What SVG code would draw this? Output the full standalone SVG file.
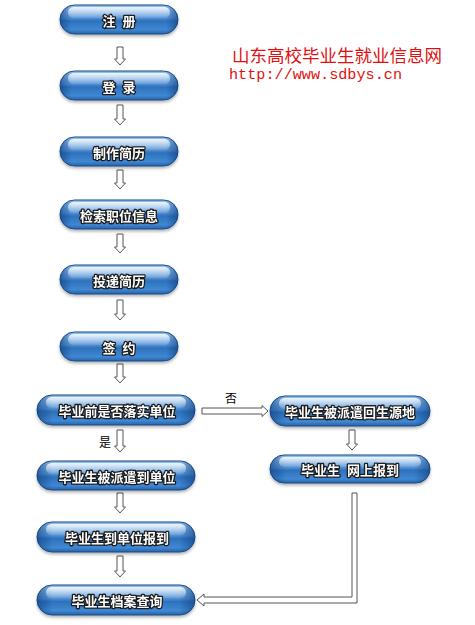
<svg xmlns="http://www.w3.org/2000/svg" width="475" height="625" viewBox="0 0 475 625">
<style>
.btn{fill:url(#gBody);stroke:#1a4c88;stroke-width:1}
.ends{fill:url(#gEnds)}
.hl{fill:url(#gHi)}
.lbl{font-family:"Noto Sans CJK SC","Noto Sans",sans-serif;font-size:13px;font-weight:bold;fill:#fff;stroke:#1a1a1a;stroke-width:2.6px;paint-order:stroke;stroke-linejoin:round;text-anchor:middle;dominant-baseline:central;word-spacing:4px}
.arr{fill:#fff;stroke:#555;stroke-width:1}
.note{font-family:"Noto Sans CJK SC","Noto Sans",sans-serif;font-size:12px;fill:#000;text-anchor:middle}
</style>
<defs>
<linearGradient id="gBody" x1="0" y1="0" x2="0" y2="1">
<stop offset="0" stop-color="#95c2ee"/>
<stop offset="0.45" stop-color="#4f8fd4"/>
<stop offset="0.55" stop-color="#2f71bb"/>
<stop offset="0.85" stop-color="#3f88d4"/>
<stop offset="1" stop-color="#2a63a6"/>
</linearGradient>
<linearGradient id="gEnds" x1="0" y1="0" x2="1" y2="0">
<stop offset="0" stop-color="#0c3a78" stop-opacity="0.55"/>
<stop offset="0.1" stop-color="#0c3a78" stop-opacity="0"/>
<stop offset="0.9" stop-color="#0c3a78" stop-opacity="0"/>
<stop offset="1" stop-color="#0c3a78" stop-opacity="0.55"/>
</linearGradient>
<linearGradient id="gHi" x1="0" y1="0" x2="0" y2="1">
<stop offset="0" stop-color="#fff" stop-opacity="0.85"/>
<stop offset="1" stop-color="#fff" stop-opacity="0.1"/>
</linearGradient>
<filter id="sh" x="-10%" y="-20%" width="120%" height="160%">
<feDropShadow dx="0" dy="2" stdDeviation="1.5" flood-color="#000" flood-opacity="0.3"/>
</filter>
</defs>
<rect width="475" height="625" fill="#fff"/>

<g id="title">
<text x="232" y="62" font-family="'Noto Sans CJK SC',sans-serif" font-size="17.5" fill="#e01010" textLength="210" lengthAdjust="spacingAndGlyphs">山东高校毕业生就业信息网</text>
<text x="229" y="79" font-family="'Liberation Mono',monospace" font-size="15" fill="#e01010" textLength="173" lengthAdjust="spacingAndGlyphs">http://www.sdbys.cn</text>
</g>

<g id="connectors">
<path class="arr" d="M117 47H123V59H125.5L120 65L114.5 59H117Z"/>
<path class="arr" d="M117 105H123V119H125.5L120 125L114.5 119H117Z"/>
<path class="arr" d="M117 170H123V183H125.5L120 189L114.5 183H117Z"/>
<path class="arr" d="M117 234H123V247H125.5L120 253L114.5 247H117Z"/>
<path class="arr" d="M117 300H123V314H125.5L120 320L114.5 314H117Z"/>
<path class="arr" d="M117 364H123V377H125.5L120 383L114.5 377H117Z"/>
<path class="arr" d="M117 430H123V446H125.5L120 452L114.5 446H117Z"/>
<path class="arr" d="M117 493H123V507H125.5L120 513L114.5 507H117Z"/>
<path class="arr" d="M117 556H123V571H125.5L120 577L114.5 571H117Z"/>
<path class="arr" d="M349 430H355V444H357.5L352 450L346.5 444H349Z"/>
<path class="arr" d="M202 408H262V405.5L268 411L262 416.5V414H202Z"/>
<path class="arr" d="M352 493H357V603H204V606L197 600L204 594V597H352Z"/>
<text class="note" x="231" y="403">否</text>
<text class="note" x="105" y="447">是</text>
</g>

<g id="n1" filter="url(#sh)"><rect class="btn" x="60" y="5" width="118" height="29" rx="14.5"/><rect class="ends" x="60" y="5" width="118" height="29" rx="14.5"/><rect class="hl" x="68" y="7" width="102" height="11" rx="5.5"/><text class="lbl" x="119" y="20">注 册</text></g>
<g id="n2" filter="url(#sh)"><rect class="btn" x="60" y="71" width="118" height="29" rx="14.5"/><rect class="ends" x="60" y="71" width="118" height="29" rx="14.5"/><rect class="hl" x="68" y="73" width="102" height="11" rx="5.5"/><text class="lbl" x="119" y="86">登 录</text></g>
<g id="n3" filter="url(#sh)"><rect class="btn" x="60" y="137" width="118" height="29" rx="14.5"/><rect class="ends" x="60" y="137" width="118" height="29" rx="14.5"/><rect class="hl" x="68" y="139" width="102" height="11" rx="5.5"/><text class="lbl" x="119" y="152">制作简历</text></g>
<g id="n4" filter="url(#sh)"><rect class="btn" x="60" y="200" width="118" height="29" rx="14.5"/><rect class="ends" x="60" y="200" width="118" height="29" rx="14.5"/><rect class="hl" x="68" y="202" width="102" height="11" rx="5.5"/><text class="lbl" x="119" y="215">检索职位信息</text></g>
<g id="n5" filter="url(#sh)"><rect class="btn" x="60" y="265" width="118" height="29" rx="14.5"/><rect class="ends" x="60" y="265" width="118" height="29" rx="14.5"/><rect class="hl" x="68" y="267" width="102" height="11" rx="5.5"/><text class="lbl" x="119" y="280">投递简历</text></g>
<g id="n6" filter="url(#sh)"><rect class="btn" x="60" y="332" width="118" height="29" rx="14.5"/><rect class="ends" x="60" y="332" width="118" height="29" rx="14.5"/><rect class="hl" x="68" y="334" width="102" height="11" rx="5.5"/><text class="lbl" x="119" y="347">签 约</text></g>
<g id="n7" filter="url(#sh)"><rect class="btn" x="37" y="395" width="158" height="30" rx="15"/><rect class="ends" x="37" y="395" width="158" height="30" rx="15"/><rect class="hl" x="46" y="397" width="140" height="11" rx="5.5"/><text class="lbl" x="117" y="410">毕业前是否落实单位</text></g>
<g id="n8" filter="url(#sh)"><rect class="btn" x="37" y="461" width="158" height="29" rx="14.5"/><rect class="ends" x="37" y="461" width="158" height="29" rx="14.5"/><rect class="hl" x="46" y="463" width="140" height="11" rx="5.5"/><text class="lbl" x="117" y="476">毕业生被派遣到单位</text></g>
<g id="n9" filter="url(#sh)"><rect class="btn" x="37" y="522" width="158" height="30" rx="15"/><rect class="ends" x="37" y="522" width="158" height="30" rx="15"/><rect class="hl" x="46" y="524" width="140" height="11" rx="5.5"/><text class="lbl" x="117" y="537">毕业生到单位报到</text></g>
<g id="n10" filter="url(#sh)"><rect class="btn" x="37" y="585" width="158" height="30" rx="15"/><rect class="ends" x="37" y="585" width="158" height="30" rx="15"/><rect class="hl" x="46" y="587" width="140" height="11" rx="5.5"/><text class="lbl" x="117" y="600">毕业生档案查询</text></g>
<g id="r1" filter="url(#sh)"><rect class="btn" x="270" y="396" width="160" height="30" rx="15"/><rect class="ends" x="270" y="396" width="160" height="30" rx="15"/><rect class="hl" x="279" y="398" width="142" height="11" rx="5.5"/><text class="lbl" x="350" y="411">毕业生被派遣回生源地</text></g>
<g id="r2" filter="url(#sh)"><rect class="btn" x="270" y="455" width="160" height="28" rx="14"/><rect class="ends" x="270" y="455" width="160" height="28" rx="14"/><rect class="hl" x="279" y="457" width="142" height="10" rx="5"/><text class="lbl" x="350" y="469">毕业生 网上报到</text></g>
</svg>
